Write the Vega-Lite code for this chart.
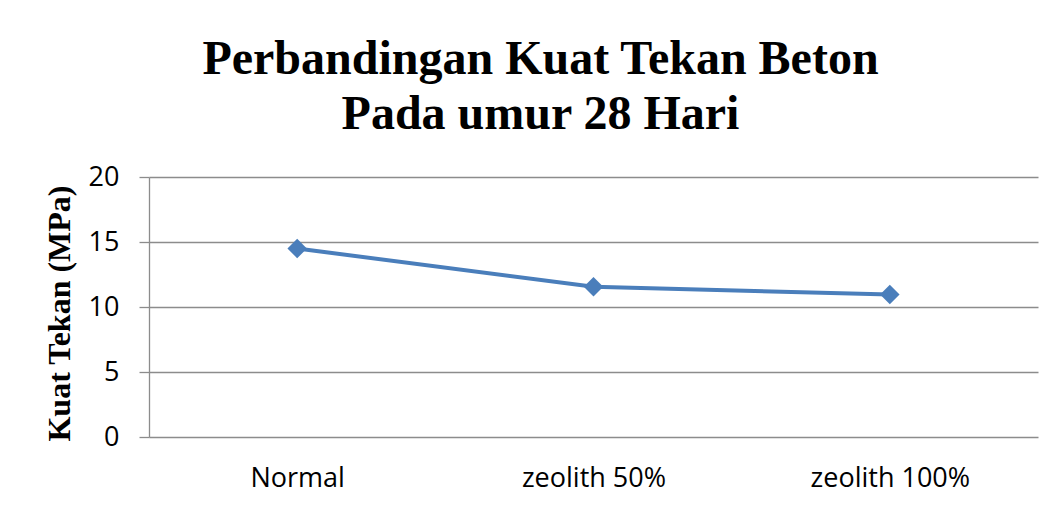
{
  "$schema": "https://vega.github.io/schema/vega-lite/v6.json",
  "width": 889,
  "height": 260,
  "autosize": {"type": "none"},
  "padding": {"left": 149, "top": 177, "right": 18, "bottom": 69},
  "background": "white",
  "title": {
    "text": ["Perbandingan Kuat Tekan Beton", "Pada umur 28 Hari"],
    "font": "Liberation Serif",
    "fontSize": 48,
    "fontWeight": "bold",
    "lineHeight": 55,
    "color": "black",
    "anchor": "middle",
    "dx": -53,
    "offset": 24
  },
  "data": {
    "values": [
      {"kategori": "Normal", "kuat": 14.5},
      {"kategori": "zeolith 50%", "kuat": 11.55},
      {"kategori": "zeolith 100%", "kuat": 10.97}
    ]
  },
  "encoding": {
    "x": {
      "field": "kategori", "type": "nominal", "sort": null,
      "scale": {"paddingInner": 0, "paddingOuter": 0.5},
      "axis": {
        "title": null, "labelAngle": 0, "domain": false, "ticks": false, "grid": false,
        "labelFont": "Open Sans", "labelFontSize": 27, "labelColor": "black", "labelPadding": 28
      }
    },
    "y": {
      "field": "kuat", "type": "quantitative",
      "scale": {"domain": [0, 20]},
      "axis": {
        "values": [0, 5, 10, 15, 20],
        "title": "Kuat Tekan (MPa)",
        "titleFont": "Liberation Serif", "titleFontSize": 32, "titleFontWeight": "bold", "titleColor": "black",
        "titlePadding": 12, "titleY": 136,
        "labelFont": "Open Sans", "labelFontSize": 27, "labelColor": "black", "labelPadding": 20,
        "domain": true, "domainColor": "#8c8c8c", "domainWidth": 1.3,
        "ticks": true, "tickSize": 10, "tickColor": "#8c8c8c", "tickWidth": 1.3,
        "grid": true, "gridColor": "#8c8c8c", "gridWidth": 1.3
      }
    }
  },
  "layer": [
    {"mark": {"type": "line", "color": "#4A7EBB", "strokeWidth": 4}},
    {"mark": {"type": "point", "shape": "diamond", "filled": true, "color": "#4A7EBB", "size": 380, "opacity": 1}}
  ],
  "config": {"view": {"stroke": null}}
}
